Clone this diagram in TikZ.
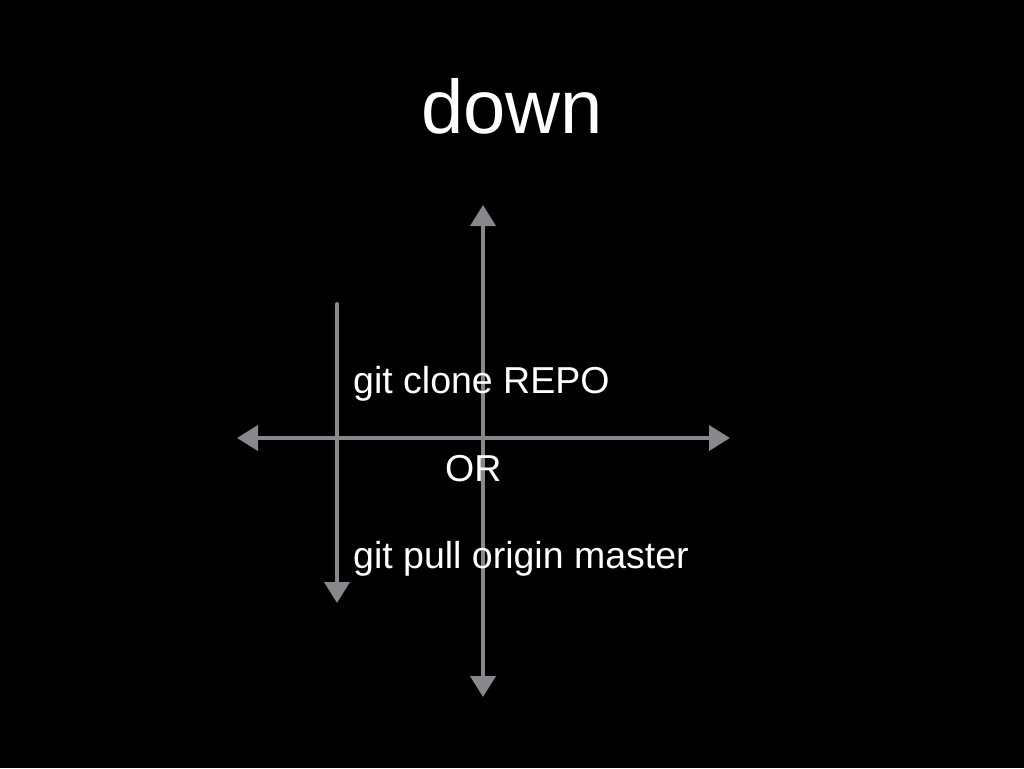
\documentclass[tikz,border=0pt]{standalone}
\usepackage{fontspec}
\setmainfont{Liberation Sans}
\usetikzlibrary{arrows.meta}
\definecolor{chalk}{RGB}{135,135,140}
\begin{document}
\begin{tikzpicture}[x=1pt,y=-1pt,line join=round,line cap=round,>={Triangle[length=21pt,width=25pt]}]
	\tikzset{axis/.style={draw=chalk,line width=4pt},
		txt/.style={text=white,inner sep=0pt,font=\fontsize{37.5}{42}\selectfont}}
	\useasboundingbox[fill=black] (0,0) rectangle (1024,768);
	% axes
	\coordinate (top) at (483,205);
	\coordinate (bot) at (483,697);
	\coordinate (lft) at (237,438);
	\coordinate (rgt) at (730,438);
	\coordinate (start) at (337,304);
	\coordinate (stop) at (337,603);
	\draw[axis,<->] (top)--(bot);
	\draw[axis,<->] (lft)--(rgt);
	\draw[axis,->] (start)--(stop);
	% texts
	\node[txt,anchor=base,font=\fontsize{76}{80}\selectfont] (title) at (512,133) {down};
	\node[txt,anchor=base west] (clone) at (353,393) {git clone REPO};
	\node[txt,anchor=base west] (or) at (445,481) {OR};
	\node[txt,anchor=base west] (pull) at (353,568) {git pull origin master};
\end{tikzpicture}
\end{document}
